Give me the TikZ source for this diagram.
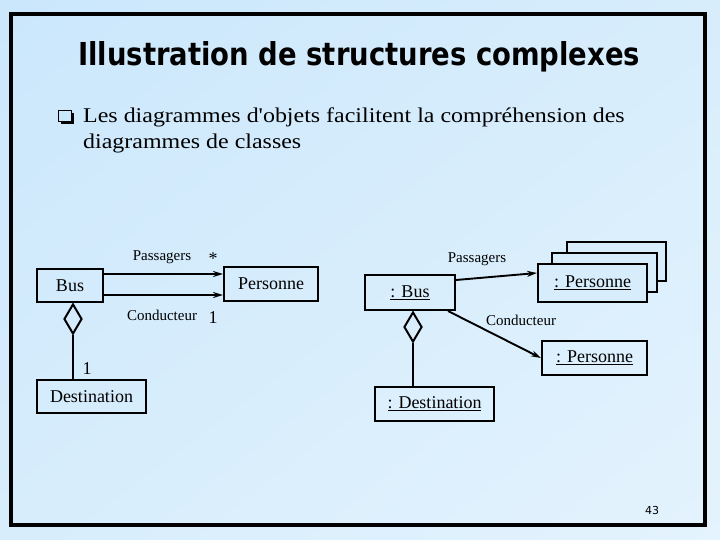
\documentclass[tikz,border=0pt]{standalone}
\usepackage{fontspec}
\setmainfont{Liberation Serif}[Ligatures=TeXOff]
\newfontfamily\titlefont{DejaVu Sans}
\newfontfamily\numfont{DejaVu Sans}
\usetikzlibrary{arrows.meta,shapes.geometric,shadings}
\definecolor{bgA}{RGB}{203,231,252}
\definecolor{bgB}{RGB}{228,243,253}
\definecolor{bgM}{RGB}{215,237,252}
\begin{document}
\begin{tikzpicture}[x=1pt,y=-1pt,
  box/.style={draw,line width=2pt,inner sep=0pt},
  assoc/.style={line width=1.9pt,-{Stealth[length=10pt,width=6pt]}},
  agg/.style={diamond,draw,line width=2pt,inner sep=0pt,minimum width=18pt,minimum height=30pt},
  cls/.style={font=\fontsize{18}{18}\selectfont},
  lbl/.style={font=\fontsize{15}{15}\selectfont,inner sep=0pt},
  mult/.style={font=\fontsize{18}{18}\selectfont,inner sep=0pt}]
\useasboundingbox (0,0) rectangle (720,540);
\shade[upper left=bgA, upper right=bgM, lower left=bgM, lower right=bgB] (0,0) rectangle (720,540);
\draw[line width=4pt] (11,14) rectangle (705,525);
% title
\node[anchor=base west, inner sep=0pt, font=\titlefont\bfseries] (title) at (78,66)
  {\resizebox{562pt}{24pt}{\fontsize{32}{32}\selectfont Illustration de structures complexes}};
% bullet
\fill (61,113) rectangle (74,124);
\filldraw[fill=bgA, line width=0.8pt] (58,110) rectangle (71,121);
\node[anchor=base west, inner sep=0pt, font=\fontsize{21}{26}\selectfont] (t1) at (83,123)
  {\scalebox{1.14}[1]{Les diagrammes d'objets facilitent la compréhension des}};
\node[anchor=base west, inner sep=0pt, font=\fontsize{21}{26}\selectfont] (t2) at (83,149)
  {\scalebox{1.14}[1]{diagrammes de classes}};
% left class diagram
\node[box, minimum width=66pt, minimum height=33pt, cls] (bus) at (70,285.5) {Bus};
\node[box, minimum width=94pt, minimum height=34pt, cls] (pers) at (271,284) {Personne};
\draw[assoc] ([yshift=11.5pt]bus.east) -- ([yshift=10pt]pers.west);
\draw[assoc] ([yshift=-9.5pt]bus.east) -- ([yshift=-11pt]pers.west);
\node[lbl] (lp) at (162,257) {Passagers};
\node[mult] (lps) at (213,259) {*};
\node[lbl] (lc) at (162,315) {Conducteur};
\node[mult] (lc1) at (213,318) {1};
\node[agg] (d1) at (73,319) {};
\node[box, minimum width=109pt, minimum height=33pt, cls] (dest) at (91.5,396.5) {Destination};
\draw[line width=2pt] (d1.south) -- (d1.south |- dest.north);
\node[mult] (m1) at (87,369) {1};
% right object diagram
\node[box, minimum width=90pt, minimum height=35pt, cls] (obus) at (410,292.5) {\underline{: Bus}};
\node[box, fill=bgM, minimum width=99pt, minimum height=39pt] (pb3) at (616.5,261.5) {};
\node[box, fill=bgM, minimum width=105pt, minimum height=39pt] (pb2) at (604.5,272.5) {};
\node[box, fill=bgM, minimum width=109pt, minimum height=38pt, cls] (pb1) at (592.5,283) {\underline{: Personne}};
\node[box, minimum width=105pt, minimum height=34pt, cls] (pc) at (594.5,358) {\underline{: Personne}};
\draw[assoc] ([yshift=12.5pt]obus.east) -- ([yshift=10pt]pb1.west);
\draw[assoc] ([xshift=-8pt]obus.south east) -- (pc.west);
\node[lbl] (rp) at (477,259) {Passagers};
\node[lbl] (rc) at (521,320) {Conducteur};
\node[agg] (d2) at (413,327) {};
\node[box, minimum width=119pt, minimum height=34pt, cls] (odest) at (434.5,404) {\underline{: Destination}};
\draw[line width=2pt] (d2.south) -- (d2.south |- odest.north);
% page number
\node[font=\numfont\fontsize{11}{11}\selectfont, inner sep=0pt] (pg) at (652,510) {43};
\end{tikzpicture}
\end{document}
